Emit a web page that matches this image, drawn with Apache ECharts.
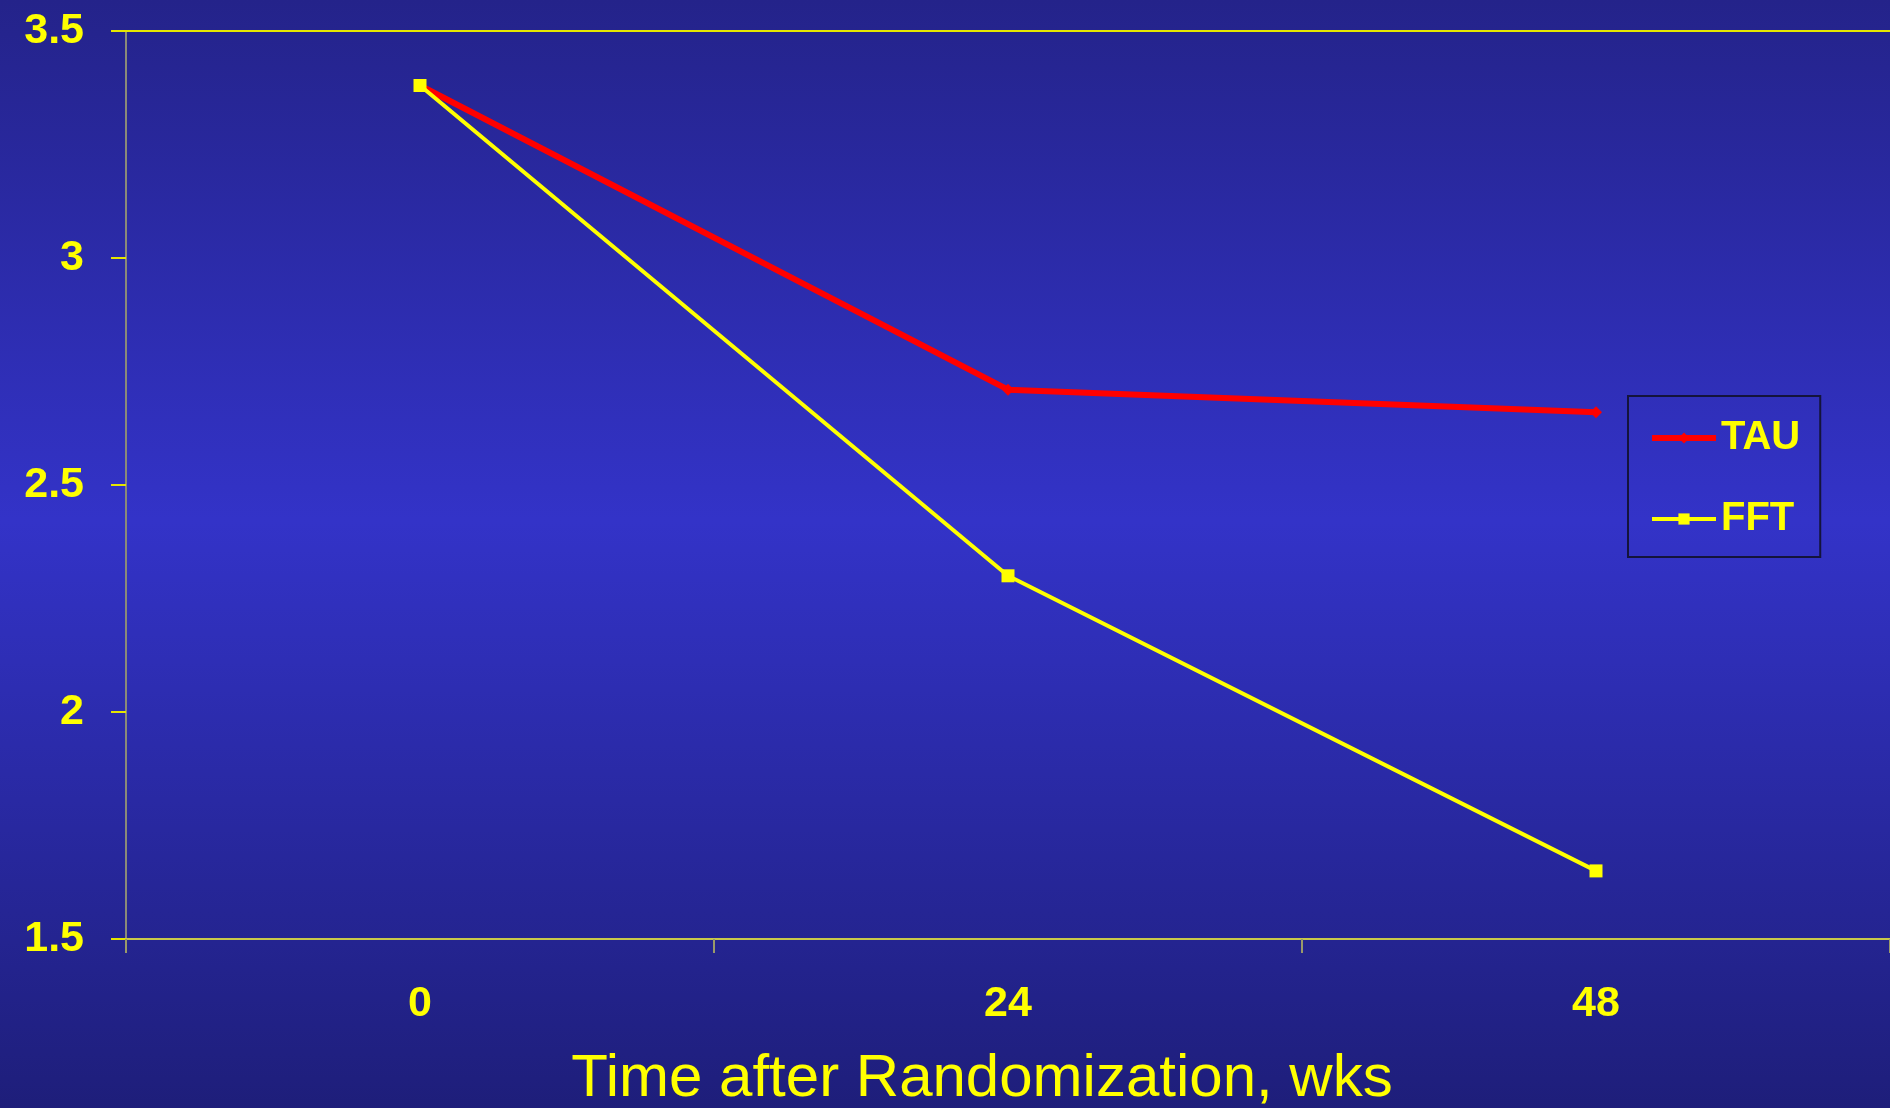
<!DOCTYPE html>
<html>
<head>
<meta charset="utf-8">
<title>TAU vs FFT over time</title>
<script src="https://cdn.jsdelivr.net/npm/echarts@6/dist/echarts.min.js"></script>
<style>
  html, body { margin: 0; padding: 0; width: 1890px; height: 1108px; overflow: hidden; background: #2a2aa8; }
  #chart { width: 1890px; height: 1108px; }
</style>
</head>
<body>
<div id="chart"></div>
<script>
// Weeks after randomization
const weeks = ['0', '24', '48'];
// Group means at each visit
const tauValues = [3.38, 2.71, 2.66];
const fftValues = [3.38, 2.30, 1.65];
// Value axis range
const yMin = 1.5;
const yMax = 3.5;
const yStep = 0.5;

const FONT = '"Liberation Sans", Arial, sans-serif';
const YELLOW = '#ffff00';
const RED = '#ff0000';

const chart = echarts.init(document.getElementById('chart'), null, { renderer: 'canvas' });

chart.setOption({
  animation: false,
  backgroundColor: {
    type: 'linear', x: 0, y: 0, x2: 0, y2: 1,
    colorStops: [
      { offset: 0, color: '#24238a' },
      { offset: 0.47, color: '#3333c8' },
      { offset: 1, color: '#1e1e7a' }
    ]
  },
  grid: { left: 126, right: 0, top: 31, bottom: 169, containLabel: false, outerBoundsMode: 'none' },
  legend: {
    orient: 'vertical',
    left: 1628,
    top: 396,
    width: 195,
    padding: [22, 20, 18, 21],
    itemGap: 41,
    itemWidth: 64,
    itemHeight: 14,
    borderColor: '#14143c',
    borderWidth: 2,
    textStyle: { color: YELLOW, fontFamily: FONT, fontWeight: 'bold', fontSize: 40 },
    data: [
      { name: 'TAU', itemStyle: { color: RED }, lineStyle: { color: RED, width: 6 } },
      { name: 'FFT', itemStyle: { color: YELLOW }, lineStyle: { color: YELLOW, width: 4 } }
    ]
  },
  xAxis: [
    {
      type: 'category',
      data: weeks,
      boundaryGap: true,
      position: 'bottom',
      name: 'Time after Randomization, wks',
      nameLocation: 'middle',
      nameGap: 110,
      nameTextStyle: { color: YELLOW, fontFamily: FONT, fontSize: 60, padding: [0, 52, 0, 0] },
      axisLine: { show: true, lineStyle: { color: '#c8c84a', width: 2 } },
      axisTick: { show: true, alignWithLabel: false, length: 14, inside: false, lineStyle: { color: '#9a9a6a', width: 2 } },
      axisLabel: { color: YELLOW, fontFamily: FONT, fontWeight: 'bold', fontSize: 43, margin: 44 },
      splitLine: { show: false }
    },
    {
      type: 'category',
      data: weeks,
      position: 'top',
      axisLine: { show: true, lineStyle: { color: '#e6e600', width: 2 } },
      axisTick: { show: false },
      axisLabel: { show: false },
      splitLine: { show: false }
    }
  ],
  yAxis: {
    type: 'value',
    min: yMin,
    max: yMax,
    interval: yStep,
    axisLine: { show: true, onZero: false, lineStyle: { color: '#8a8a78', width: 2 } },
    axisTick: { show: true, length: 15, lineStyle: { color: '#e6e600', width: 2 } },
    axisLabel: { color: YELLOW, fontFamily: FONT, fontWeight: 'bold', fontSize: 43, margin: 42 },
    splitLine: { show: false }
  },
  series: [
    {
      name: 'TAU',
      type: 'line',
      data: tauValues,
      symbol: 'diamond',
      symbolSize: 12,
      showAllSymbol: true,
      lineStyle: { color: RED, width: 6 },
      itemStyle: { color: RED },
      z: 2
    },
    {
      name: 'FFT',
      type: 'line',
      data: fftValues,
      symbol: 'rect',
      symbolSize: 13,
      showAllSymbol: true,
      lineStyle: { color: YELLOW, width: 4 },
      itemStyle: { color: YELLOW },
      z: 3
    }
  ]
});
</script>
</body>
</html>
